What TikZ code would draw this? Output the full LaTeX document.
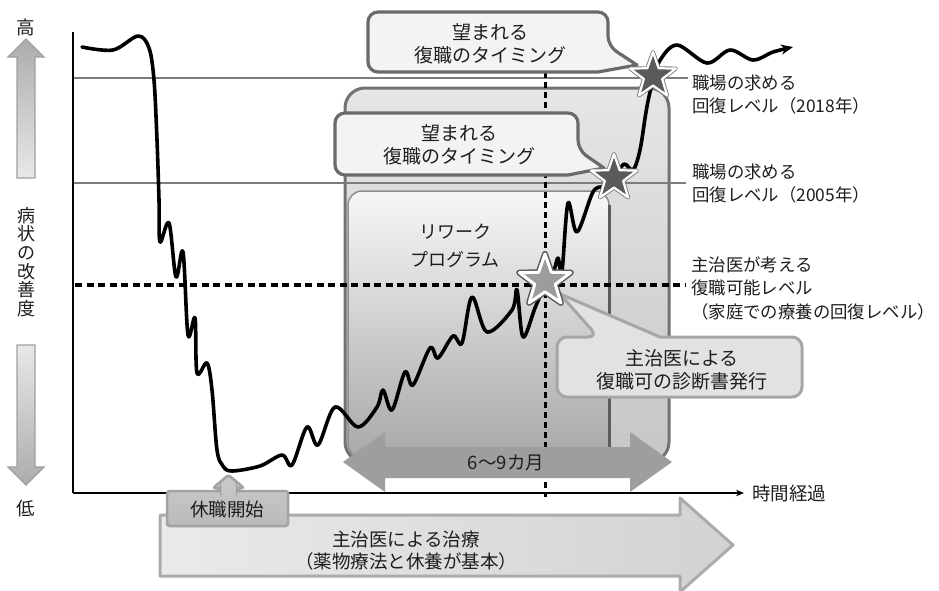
\documentclass[tikz,border=0pt]{standalone}
\usepackage{fontspec}
\setmainfont{Noto Sans CJK JP}
\usetikzlibrary{arrows.meta}
\definecolor{txt}{HTML}{1E1E1E}
\definecolor{lvl}{HTML}{7C7C7C}
\definecolor{obord}{HTML}{727272}
\definecolor{otop}{HTML}{E6E6E6}
\definecolor{obot}{HTML}{C6C6C6}
\definecolor{ibord}{HTML}{8E8E8E}
\definecolor{itop}{HTML}{F7F7F7}
\definecolor{ibot}{HTML}{A8A8A8}
\definecolor{iedge}{HTML}{5C5C5C}
\definecolor{cbord}{HTML}{6A6A6A}
\definecolor{cfill}{HTML}{F3F3F3}
\definecolor{cbordb}{HTML}{A6A6A6}
\definecolor{cfillb}{HTML}{E2E2E2}
\definecolor{stardark}{HTML}{5A5A5A}
\definecolor{starmid}{HTML}{9C9C9C}
\definecolor{durfill}{HTML}{9E9E9E}
\definecolor{barrowl}{HTML}{EAEAEA}
\definecolor{barrowr}{HTML}{D2D2D2}
\definecolor{barrowb}{HTML}{ABABAB}
\definecolor{ktop}{HTML}{CACACA}
\definecolor{kbot}{HTML}{BABABA}
\definecolor{kbord}{HTML}{A2A2A2}
\definecolor{axdark}{HTML}{ACACAC}
\definecolor{axlight}{HTML}{E8E8E8}
\definecolor{axbord}{HTML}{A0A0A0}
\newcommand\mystar[4]{\begin{scope}[shift={(#1,#2)}]\draw[#4] (-90:#3) -- (-54:{0.4*#3}) -- (-18:#3) -- (18:{0.4*#3}) -- (54:#3) -- (90:{0.4*#3}) -- (126:#3) -- (162:{0.4*#3}) -- (198:#3) -- (234:{0.4*#3}) -- cycle;\end{scope}}
\begin{document}
\begin{tikzpicture}[x=1pt,y=-1pt,
  font=\fontsize{18.5}{23.5}\selectfont, text=txt,
  every node/.style={inner sep=0pt},
  outerbox/.style={rounded corners=20pt, draw=obord, line width=3pt, top color=otop, bottom color=obot},
  innerbox/.style={rounded corners=14pt, draw=ibord, line width=1.5pt, top color=itop, bottom color=ibot},
  lvlline/.style={draw=lvl, line width=2pt},
  dotline/.style={draw=black, line width=3.3pt, dash pattern=on 7pt off 4.5pt},
  vdotline/.style={draw=black, line width=3pt, dash pattern=on 6pt off 4pt},
  axisline/.style={draw=black, line width=1.6pt},
  curveline/.style={draw=black, line width=3.6pt, line cap=round, line join=round},
  callout/.style={draw=cbord, line width=3.2pt, fill=cfill, line join=round},
  calloutb/.style={draw=cbordb, line width=3pt, fill=cfillb, line join=round},
  lbl/.style={align=left, anchor=west, font=\fontsize{17.4}{23.5}\selectfont},
  ctext/.style={align=center, font=\fontsize{19}{23}\selectfont},
  durarrow/.style={fill=durfill},
  bigarrow/.style={draw=barrowb, line width=3pt, left color=barrowl, right color=barrowr, line join=round},
  kbox/.style={draw=kbord, line width=2.5pt, top color=ktop, bottom color=kbot, rounded corners=2.5pt},
  uparrow/.style={draw=axbord, line width=1.3pt, top color=axdark, bottom color=axlight},
  downarrow/.style={draw=axbord, line width=1.3pt, top color=axlight, bottom color=axdark}]
\useasboundingbox (0,0) rectangle (939,590);

% boxes
\draw[outerbox] (345,88) rectangle (669,462);
\draw[innerbox] (348,191) rectangle (609,458);
\draw[line width=3pt, draw=iedge] (609,205) -- (609,455);
\node[align=center, font=\fontsize{18}{28}\selectfont] (rw) at (455,246) {リワーク\\プログラム};

% level lines
\draw[lvlline] (73,78) -- (688,78);
\draw[lvlline] (73,183) -- (686,183);
\draw[dotline] (75,285) -- (686,285);
\draw[vdotline] (545,72) -- (545,497);

% axes
\coordinate (ytop) at (73,32);
\coordinate (org) at (73,493);
\coordinate (xend) at (744,493);
\draw[axisline] (ytop) -- (org);
\draw[axisline, -{Stealth[length=8pt,width=6.5pt]}] (org) -- (xend);
\node[anchor=west] (tl) at (752,493) {時間経過};

% curve
\draw[curveline, -{Stealth[length=12pt,width=10pt]}] plot[smooth, tension=0.55] coordinates {
(82,47) (113,50) (138,36) (149,48) (154,80) (157,140) (159,200) (160,242) (169,223) (176,277) (183,252) (188,335) (195,318) (197,373) (207,363) (212,390) (217,450) (223,466) (232,471) (260,466) (282,455) (292,465) (307,427) (318,445) (335,407) (358,427) (377,407) (383,390) (392,410) (405,372) (413,385) (430,348) (438,358) (453,336) (462,343) (472,297) (487,332) (512,310) (517,290) (523,337) (535,308) (545,285) (554,270) (558,258) (562,271) (568,203) (577,232) (593,192) (604,186) (614,178) (624,164) (633,170) (640,150) (646,112) (651,88) (659,62) (677,45) (707,63) (730,50) (753,60) (773,52) (793,47)};

% callouts
\draw[callout] (488,12) [rounded corners=10pt] -- (608,12) -- (608,46) [sharp corners] -- (637,65) -- (598,72) [rounded corners=10pt] -- (368,72) -- (368,12) -- cycle;
\node[ctext] (c1) at (490,44) {望まれる\\復職のタイミング};
\draw[callout] (456,113) [rounded corners=10pt] -- (578,113) -- (578,150) [sharp corners] -- (604,168) -- (568,175) [rounded corners=10pt] -- (335,175) -- (335,113) -- cycle;
\node[ctext] (c2) at (459,145) {望まれる\\復職のタイミング};
\draw[calloutb] (680,397) [rounded corners=10pt] -- (557,397) -- (557,337) -- (598,337) [sharp corners] -- (560,294) -- (660,337) [rounded corners=10pt] -- (802,337) -- (802,397) -- cycle;
\node[ctext] (c3) at (682,370) {主治医による\\復職可の診断書発行};

% stars
\mystar{545}{281}{27}{draw=stardark, line width=6pt, line join=round}
\mystar{545}{281}{27}{draw=white, line width=3pt, fill=starmid, line join=round}
\mystar{614}{178}{24}{draw=lvl, line width=4pt, line join=round}
\mystar{614}{178}{24}{draw=white, line width=2.2pt, fill=stardark, line join=round}
\mystar{653}{76}{24}{draw=lvl, line width=4pt, line join=round}
\mystar{653}{76}{24}{draw=white, line width=2.2pt, fill=stardark, line join=round}

% duration arrow
\fill[durarrow] (343,462) -- (385,432) -- (385,447) -- (630,447) -- (630,432) -- (672,462) -- (630,492) -- (630,478) -- (385,478) -- (385,492) -- cycle;
\node (dur) at (506,463) {6〜9カ月};

% treatment arrow
\draw[bigarrow] (160,515) -- (680,515) -- (680,498) -- (733,545) -- (680,592) -- (680,576) -- (160,576) -- cycle;
\node[align=center, font=\fontsize{18.5}{22}\selectfont] (treat) at (406,551) {主治医による治療\\（薬物療法と休養が基本）};

% leave start
\draw[kbox] (167,491) -- (220,491) -- (220,488) -- (213,488) -- (228.5,475) -- (244,488) -- (237,488) -- (237,491) -- (288,491) -- (288,526) -- (167,526) -- cycle;
\node (kyu) at (227,509) {休職開始};

% left scale arrows
\draw[uparrow] (26,39) -- (44,57) -- (35,57) -- (35,178) -- (17,178) -- (17,57) -- (8,57) -- cycle;
\draw[downarrow] (17,345) -- (35,345) -- (35,467) -- (44,467) -- (26,485) -- (8,467) -- (17,467) -- cycle;
\node (hi) at (26,27) {高};
\node (lo) at (26,508) {低};
\node[align=center, font=\fontsize{18}{18.6}\selectfont] (ylab) at (26,262) {病\\状\\の\\改\\善\\度};

% right labels
\node[lbl] (l2018) at (692,94.5) {職場の求める\\回復レベル（2018年）};
\node[lbl] (l2005) at (692,183.5) {職場の求める\\回復レベル（2005年）};
\node[lbl] (ldoc) at (691,288) {主治医が考える\\復職可能レベル\\（家庭での療養の回復レベル）};
\end{tikzpicture}
\end{document}
